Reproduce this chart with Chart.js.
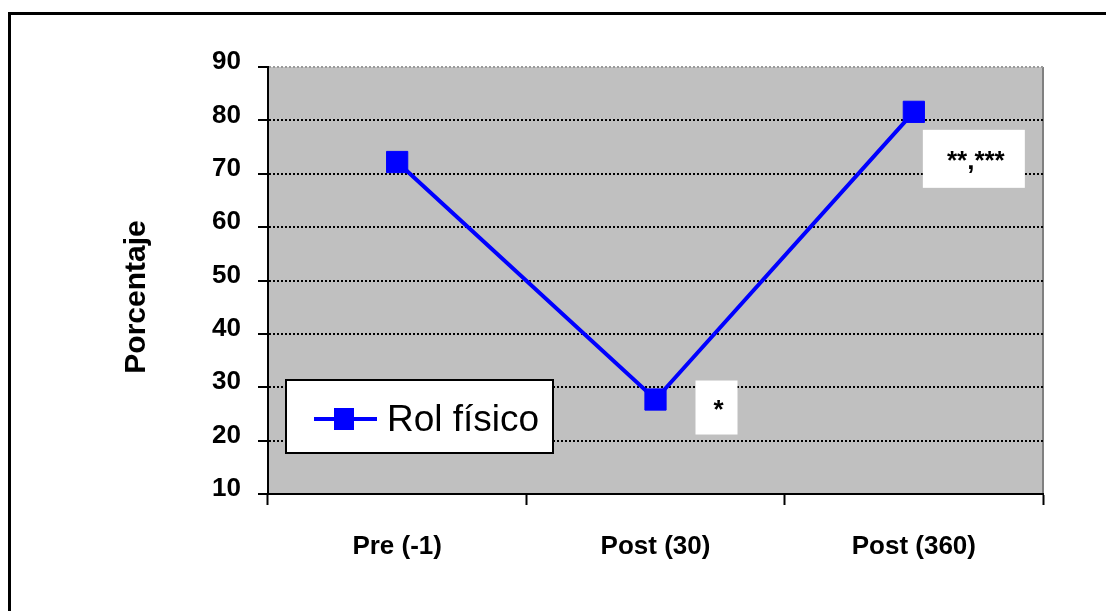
<!DOCTYPE html>
<html>
<head>
<meta charset="utf-8">
<script src="https://cdn.jsdelivr.net/npm/chart.js@4.4.1/dist/chart.umd.min.js"></script>
<style>
  body { margin: 0; background: #fff; }
  canvas { display: block; }
</style>
</head>
<body>
<canvas id="MyChart" width="1106" height="611"></canvas>
<script>
var categories = ['Pre (-1)', 'Post (30)', 'Post (360)'];
var rolFisico = [72.2, 27.7, 81.6];
var significance = ['', '*', '**,***'];
var yMin = 10;
var yMax = 90;
var yStep = 10;

var sans = "'Liberation Sans', Arial, sans-serif";

// white boxes next to the points, offsets from the marker centre
var noteBoxes = [null, { dx: 40, dy: -19, w: 42, h: 54 }, { dx: 9, dy: 18, w: 102, h: 58 }];

var decorations = {
  id: 'decorations',
  beforeDraw: function (chart) {
    var ctx = chart.ctx;
    var a = chart.chartArea;
    ctx.save();
    ctx.fillStyle = '#c0c0c0';
    ctx.fillRect(a.left, a.top, a.right - a.left, a.bottom - a.top);
    ctx.fillStyle = '#808080';
    ctx.fillRect(a.right - 1, a.top, 2, a.bottom - a.top);
    // outer frame (only top and left show)
    ctx.fillStyle = '#000';
    ctx.fillRect(8, 12, chart.width, 3);
    ctx.fillRect(8, 12, 3, chart.height);
    ctx.restore();
  },
  afterDraw: function (chart) {
    var ctx = chart.ctx;
    var a = chart.chartArea;
    var meta = chart.getDatasetMeta(0);
    var ds = chart.data.datasets[0];
    ctx.save();

    // significance notes
    ctx.font = 'bold 26px ' + sans;
    ctx.textAlign = 'center';
    ctx.textBaseline = 'alphabetic';
    meta.data.forEach(function (pt, i) {
      var b = noteBoxes[i];
      if (!b || !significance[i]) return;
      var x = pt.x + b.dx, y = pt.y + b.dy;
      ctx.fillStyle = '#fff';
      ctx.fillRect(x, y, b.w, b.h);
      ctx.fillStyle = '#000';
      ctx.fillText(significance[i], x + b.w / 2 + 2, y + b.h / 2 + 10);
    });

    // legend
    var lx = a.left + 18, ly = a.bottom - 114, lw = 267, lh = 73;
    ctx.fillStyle = '#fff';
    ctx.fillRect(lx, ly, lw, lh);
    ctx.strokeStyle = '#000';
    ctx.lineWidth = 2;
    ctx.strokeRect(lx, ly, lw, lh);
    var cy = ly + 39;
    ctx.strokeStyle = ds.borderColor;
    ctx.lineWidth = 4;
    ctx.beginPath();
    ctx.moveTo(lx + 28, cy);
    ctx.lineTo(lx + 91, cy);
    ctx.stroke();
    ctx.fillStyle = ds.backgroundColor;
    ctx.fillRect(lx + 48, cy - 11, 20, 22);
    ctx.fillStyle = '#000';
    ctx.font = '37px ' + sans;
    ctx.textAlign = 'left';
    ctx.textBaseline = 'alphabetic';
    ctx.fillText(ds.label, lx + 101, ly + 51);

    // y axis title
    ctx.translate(137, 297);
    ctx.rotate(-Math.PI / 2);
    ctx.font = 'bold 30px ' + sans;
    ctx.textAlign = 'center';
    ctx.textBaseline = 'middle';
    ctx.fillText('Porcentaje', 0, 0);
    ctx.restore();
  },
};

var ctx = document.getElementById('MyChart').getContext('2d');
var chart = new Chart(ctx, {
  type: 'line',
  data: {
    labels: categories,
    datasets: [
      {
        label: 'Rol físico',
        data: rolFisico,
        borderColor: '#0000ff',
        backgroundColor: '#0000ff',
        borderWidth: 4,
        pointStyle: 'rect',
        pointRadius: 15,
        pointBorderWidth: 1,
        tension: 0,
      },
    ],
  },
  options: {
    responsive: false,
    animation: false,
    layout: {
      padding: { left: 0, right: 63, top: 67, bottom: 0 },
    },
    scales: {
      x: {
        offset: true,
        afterFit: function (s) { s.height = 117; },
        grid: {
          offset: true,
          drawOnChartArea: false,
          tickLength: 11,
          tickColor: '#000',
          tickWidth: 2,
        },
        border: { color: '#000', width: 2 },
        ticks: {
          color: '#000',
          padding: 26,
          maxRotation: 0,
          font: { family: sans, size: 26, weight: 'bold' },
        },
      },
      y: {
        min: yMin,
        max: yMax,
        afterFit: function (s) { s.width = 268; },
        grid: {
          color: function (c) {
            return c.tick && c.tick.value === yMax ? '#9a9a9a' : '#000';
          },
          lineWidth: 2,
          tickLength: 10,
          tickColor: '#000',
          tickWidth: 2,
          tickBorderDash: [],
        },
        border: { color: '#000', width: 2, dash: [2, 2] },
        ticks: {
          stepSize: yStep,
          color: '#000',
          padding: 17,
          labelOffset: -5,
          font: { family: sans, size: 26, weight: 'bold' },
        },
      },
    },
    plugins: {
      legend: { display: false },
      title: { display: false },
      tooltip: { enabled: false },
    },
  },
  plugins: [decorations],
});
</script>
</body>
</html>
